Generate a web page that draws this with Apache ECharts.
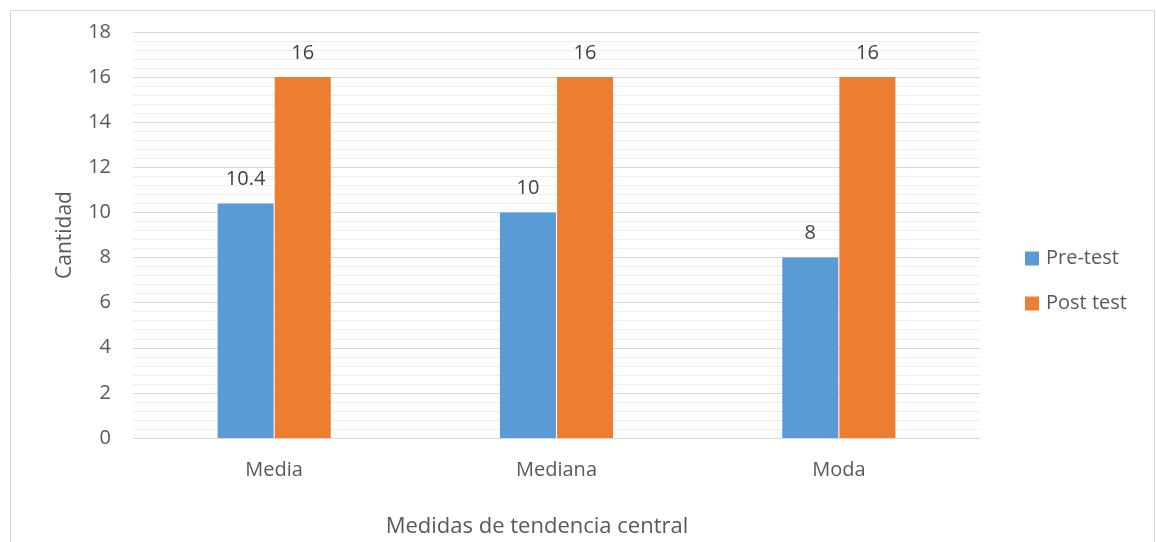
<!DOCTYPE html>
<html>
<head>
<meta charset="utf-8">
<script src="https://cdn.jsdelivr.net/npm/echarts@6/dist/echarts.min.js"></script>
<style>html,body{margin:0;padding:0;background:#fff;}#c{width:1156px;height:542px;}</style>
</head>
<body>
<div id="c"></div>
<script>
var categories = ['Media', 'Mediana', 'Moda'];
var preTest = [10.4, 10, 8];
var postTest = [16, 16, 16];
var seriesNames = ['Pre-test', 'Post test'];
var yTitle = 'Cantidad';
var xTitle = 'Medidas de tendencia central';

var FONT = 'Open Sans';
var chart = echarts.init(document.getElementById('c'));
chart.setOption({
  animation: false,
  textStyle: { fontFamily: FONT },
  grid: { left: 133, right: 176, top: 32, bottom: 104 },
  legend: {
    orient: 'vertical',
    left: 1020, top: 243,
    itemWidth: 14, itemHeight: 14, itemGap: 24,
    icon: 'rect',
    textStyle: { fontFamily: FONT, fontSize: 20, color: '#595959', lineHeight: 21, padding: [0, 0, 0, 2] },
    data: seriesNames
  },
  xAxis: {
    type: 'category',
    data: categories,
    axisLine: { lineStyle: { color: '#d9d9d9', width: 1 } },
    axisTick: { show: false },
    axisLabel: { fontFamily: FONT, fontSize: 20, color: '#595959', margin: 22 }
  },
  yAxis: {
    type: 'value',
    min: 0, max: 18, interval: 2,
    name: yTitle,
    nameLocation: 'middle',
    nameGap: 57,
    nameTextStyle: { fontFamily: FONT, fontSize: 21, color: '#595959' },
    axisLine: { show: false },
    axisTick: { show: false },
    axisLabel: { fontFamily: FONT, fontSize: 20, color: '#595959', margin: 22 },
    splitLine: { lineStyle: { color: '#d9d9d9', width: 1 } },
    minorTick: { show: false, splitNumber: 5 },
    minorSplitLine: { show: true, lineStyle: { color: '#efefef', width: 1 } }
  },
  series: [
    {
      name: seriesNames[0], type: 'bar', data: preTest,
      barWidth: 56, barGap: '2%',
      itemStyle: { color: '#5B9BD5' },
      label: { show: true, position: 'top', distance: 14, fontFamily: FONT, fontSize: 20, color: '#404040' }
    },
    {
      name: seriesNames[1], type: 'bar', data: postTest,
      barWidth: 56,
      itemStyle: { color: '#ED7D31' },
      label: { show: true, position: 'top', distance: 14, fontFamily: FONT, fontSize: 20, color: '#404040' }
    }
  ],
  graphic: [
    { type: 'rect', silent: true, z: -1, shape: { x: 10.5, y: 10.5, width: 1144, height: 545 },
      style: { fill: 'none', stroke: '#d9d9d9', lineWidth: 1 } },
    { type: 'text', x: 537, y: 527,
      style: { text: xTitle, font: '22px "' + FONT + '"', fill: '#595959', align: 'center', verticalAlign: 'middle' } }
  ]
});
</script>
</body>
</html>
